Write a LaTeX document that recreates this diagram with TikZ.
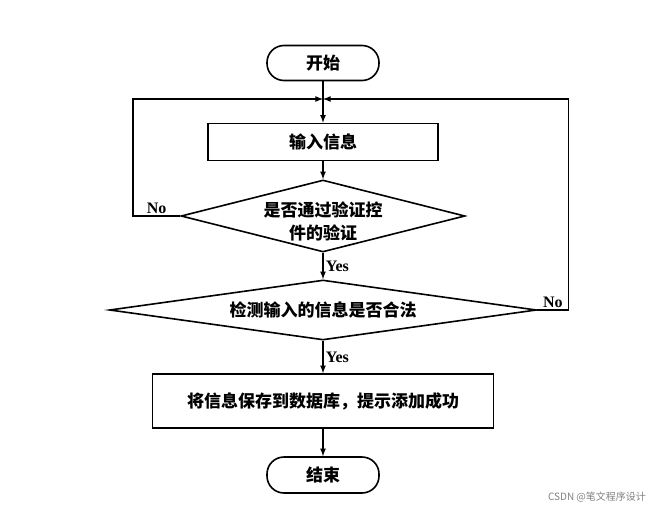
\documentclass[tikz,border=0pt]{standalone}
\usepackage{fontspec}
\setmainfont{Liberation Serif}
\newfontfamily\cjk{Noto Sans CJK SC}
\usetikzlibrary{shapes.geometric}

\begin{document}
\begin{tikzpicture}[x=1pt,y=-1pt,line width=1.6pt,>=latex,
    term/.style={draw,rounded corners=17pt,minimum width=112pt,minimum height=35pt,font=\cjk\bfseries\fontsize{17}{20}\selectfont},
    proc/.style={draw,inner sep=0pt,font=\cjk\bfseries\fontsize{17}{20}\selectfont},
    decide/.style={draw,diamond,inner sep=0pt,align=center,font=\cjk\bfseries\fontsize{17}{23}\selectfont},
    lbl/.style={font=\bfseries\fontsize{16}{18}\selectfont,inner sep=2pt}]
    \useasboundingbox (0,0) rectangle (671,511);
    % shapes
    \node[term] (start) at (323,63) {开始};
    \node[proc,minimum width=230pt,minimum height=37pt] (input) at (323,142) {输入信息};
    \node[decide,aspect=3.94,minimum width=284pt,minimum height=72pt] (chk1) at (323,216) {};
    \node[font=\cjk\bfseries\fontsize{17}{23}\selectfont,align=center] (chk1txt) at (323,221) {是否通过验证控\\件的验证};
    \node[decide,aspect=7.1,minimum width=427pt,minimum height=60pt] (chk2) at (323,310) {检测输入的信息是否合法};
    \node[proc,minimum width=341pt,minimum height=54pt] (save) at (323,401) {将信息保存到数据库，提示添加成功};
    \node[term,minimum height=36pt] (end) at (323,475) {结束};
    \coordinate (join) at (323,99);
    % connectors
    \draw[->] (start) -- (input);
    \draw[->] (input) -- (chk1);
    \draw[->] (chk1) -- node[lbl,right] {Yes} (chk2);
    \draw[->] (chk2) -- node[lbl,right] {Yes} (save);
    \draw[->] (save) -- (end);
    \draw[->] (chk1.west) -- node[lbl,above] {No} ++(-47,0) |- (join);
    \draw[->] (chk2.east) -- node[lbl,above] {No} ++(31,0) |- (join);
    \node[gray,font=\cjk\fontsize{10}{12}\selectfont] (wmark) at (597,497) {CSDN @笔文程序设计};
\end{tikzpicture}
\end{document}
